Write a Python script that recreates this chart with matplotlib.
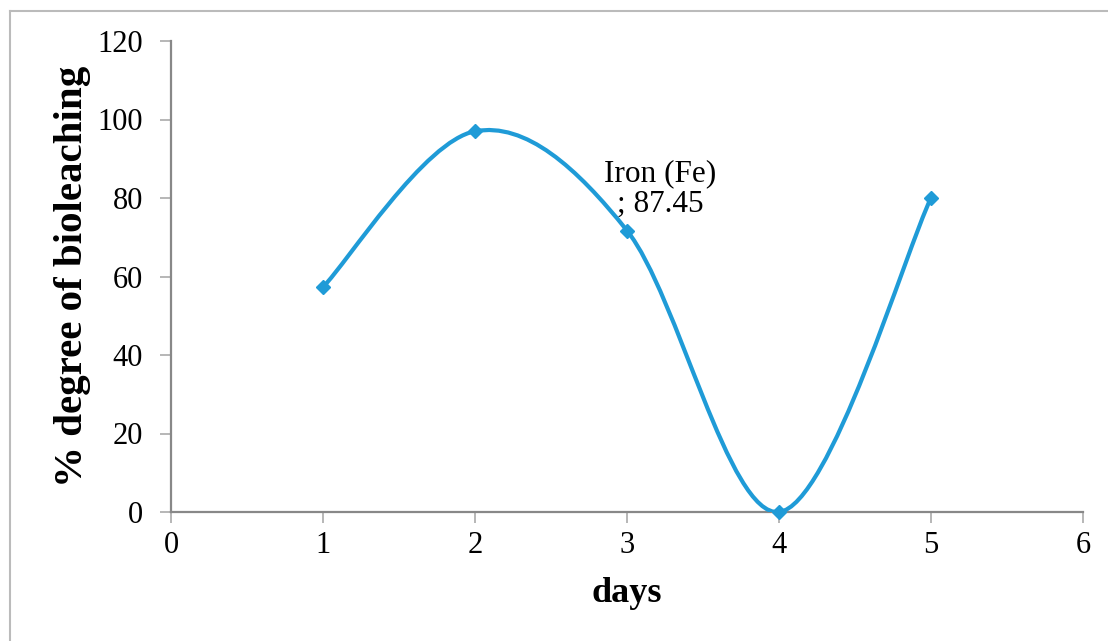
import numpy as np
import matplotlib.pyplot as plt
from matplotlib.path import Path
from matplotlib.patches import PathPatch
from matplotlib.lines import Line2D

plt.rcParams['font.family'] = ['Liberation Serif', 'DejaVu Serif']

days = [1, 2, 3, 4, 5]
bioleaching = [57.3, 97.0, 71.7, 0.0, 80.0]
label_text = 'Iron (Fe)\n; 87.45'

line_color = '#1F9BD7'
axis_color = '#888888'

fig = plt.figure(figsize=(11.08, 6.41), dpi=100)
ax = fig.add_axes([171 / 1108, 1 - 512 / 641, (1083 - 171) / 1108, (512 - 41) / 641])

# smoothed line (Excel-style cubic bezier through the points)
pts = np.column_stack([days, bioleaching])
n = len(pts)
verts = [tuple(pts[0])]
codes = [Path.MOVETO]
for i in range(n - 1):
    p0 = pts[max(i - 1, 0)]
    p1 = pts[i]
    p2 = pts[i + 1]
    p3 = pts[min(i + 2, n - 1)]
    c1 = p1 + (p2 - p0) / 6
    c2 = p2 - (p3 - p1) / 6
    verts += [tuple(c1), tuple(c2), tuple(p2)]
    codes += [Path.CURVE4] * 3
ax.add_patch(PathPatch(Path(verts, codes), facecolor='none', edgecolor=line_color,
                       lw=3, capstyle='round', zorder=3))
ax.plot(days, bioleaching, linestyle='none', marker='D', markersize=7,
        color=line_color, zorder=4, clip_on=False)

ax.text(3.22, 82.3, label_text, ha='center', va='center', fontsize=22.5, color='black',
        linespacing=1.05)

ax.set_xlim(0, 6)
ax.set_ylim(0, 120)
ax.set_xticks(range(0, 7))
ax.set_yticks(range(0, 121, 20))
for s in ['top', 'right']:
    ax.spines[s].set_visible(False)
for s in ['left', 'bottom']:
    ax.spines[s].set_color(axis_color)
    ax.spines[s].set_linewidth(1.6)
ax.tick_params(direction='out', length=8, width=1.2, color='#aaaaaa',
               labelsize=22, pad=6)
ax.tick_params(axis='y', pad=12)

ax.set_xlabel('days', fontsize=26, fontweight='bold', labelpad=12)
ax.set_ylabel('% degree of bioleaching', fontsize=29.5, fontweight='bold', labelpad=5)

# outer frame
fig.add_artist(Line2D([9.5 / 1108, 9.5 / 1108], [0, 1 - 11 / 641], color='#bbbbbb', lw=1.5))
fig.add_artist(Line2D([9.5 / 1108, 1], [1 - 11 / 641, 1 - 11 / 641], color='#bbbbbb', lw=1.5))

fig.savefig('out.png', dpi=100)
